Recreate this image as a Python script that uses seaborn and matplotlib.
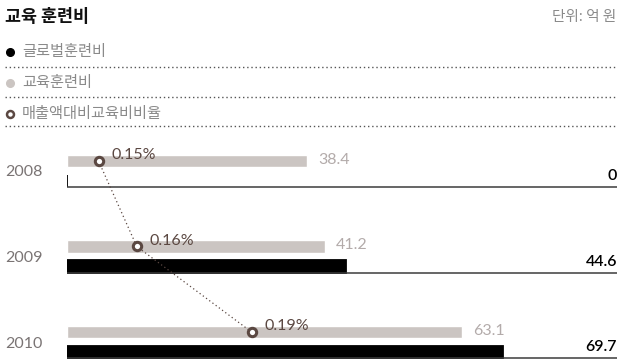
import matplotlib
matplotlib.use("Agg")
import matplotlib.pyplot as plt
from matplotlib.lines import Line2D
import matplotlib.transforms as mtransforms
import seaborn as sns
import pandas as pd

# ---- data ----
years = ["2008", "2009", "2010"]
education_cost = [38.4, 41.2, 63.1]      # 교육훈련비 (gray)
global_cost = [0, 44.6, 69.7]            # 글로벌훈련비 (black)
ratio_pct = [0.15, 0.16, 0.19]           # 매출액대비교육비비율 (%)

title = "교육 훈련비"
unit = "단위: 억 원"
legend_labels = ["글로벌훈련비", "교육훈련비", "매출액대비교육비비율"]

GRAY = "#cbc5c2"
BLACK = "#000000"
BROWN = "#5b4842"
GRAYTXT = "#b3abaa"
KR = ["Noto Sans CJK KR", "DejaVu Sans"]
NUM = ["Lato", "Noto Sans CJK KR", "DejaVu Sans"]

sns.set_theme(style="white")
plt.rcParams["font.family"] = NUM

W, H = 618, 359
fig = plt.figure(figsize=(W / 100, H / 100), dpi=100)

def fx(px):
    return px / W

def fy(py):
    return 1 - py / H

# main axes: x from 67px to 617px, y from 140px to bottom
ax = fig.add_axes([fx(67), 0, fx(617) - fx(67), (H - 140) / H])

df = pd.DataFrame({
    "year": years * 2,
    "series": [legend_labels[1]] * 3 + [legend_labels[0]] * 3,
    "value": education_cost + global_cost,
})
sns.barplot(data=df, x="value", y="year", hue="series",
            hue_order=[legend_labels[1], legend_labels[0]],
            palette=[GRAY, BLACK], orient="h", width=0.468, gap=0.375,
            errorbar=None, legend=False, saturation=1, ax=ax)

ax.set_xlim(0, 550 / 6.262)
ax.set_ylim(2 + 17 / 85.5, -31 / 85.5)
for s in ax.spines.values():
    s.set_visible(False)
ax.set_xticks([])
ax.set_xlabel("")
ax.set_ylabel("")
ax.tick_params(axis="y", length=0, pad=62 * 72 / 100, labelsize=11.5, labelcolor="#7a7474")
for lab in ax.get_yticklabels():
    lab.set_horizontalalignment("left")
    lab.set_fontfamily(NUM)

gray_bars = ax.containers[0]
black_bars = ax.containers[1]

for p in black_bars:
    p.set_edgecolor(BLACK)
    p.set_linewidth(1.3)

dpi_scale = fig.dpi_scale_trans

# baselines under black bars, value labels
for p, v in zip(black_bars, global_cost):
    yb = p.get_y() + p.get_height()
    ax.axhline(yb, color="#3c3c3c", lw=1.1, zorder=1)
    tr = ax.get_yaxis_transform() + mtransforms.ScaledTranslation(0, 4 / 100, dpi_scale)
    ax.text(1.0, yb, f"{v:g}", transform=tr, ha="right",
            va="bottom", fontsize=11.5, color="#000000", fontweight="semibold")

for p, v in zip(gray_bars, education_cost):
    yc = p.get_y() + p.get_height() / 2
    tr = ax.transData + mtransforms.ScaledTranslation(11 / 100, 1 / 100, dpi_scale)
    ax.text(p.get_width(), yc, f"{v:g}", transform=tr, ha="left", va="center",
            fontsize=11.5, color=GRAYTXT)

# ratio line on a twin x scale
gray_centers = [p.get_y() + p.get_height() / 2 for p in gray_bars]
ax2 = ax.twiny()
v0 = (67 + 475.2) / 3825
v1 = (617 + 475.2) / 3825
ax2.set_xlim(v0, v1)
rdf = pd.DataFrame({"pct": ratio_pct, "y": gray_centers})
sns.lineplot(data=rdf, x="pct", y="y", sort=False, ax=ax2, color=BROWN,
             linestyle=(0, (1, 2.2)), lw=0.9, marker="o", markersize=6,
             markerfacecolor="white", markeredgecolor=BROWN, markeredgewidth=2.2)
ax2.set_xticks([])
ax2.set_xlabel("")
ax2.set_ylabel("")
ax2.set_ylim(2 + 17 / 85.5, -31 / 85.5)
for s in ax2.spines.values():
    s.set_visible(False)
for x, y in zip(ratio_pct, gray_centers):
    tr = ax2.transData + mtransforms.ScaledTranslation(13 / 100, 5.5 / 100, dpi_scale)
    ax2.text(x, y, f"{x:.2f}%", transform=tr, ha="left", va="center",
             fontsize=11.5, color=BROWN)

# ---- header ----
fig.text(fx(5), fy(17), title, fontsize=12.5, fontweight="bold", family=KR,
         ha="left", va="center", color="#111111")
fig.text(fx(616), fy(17), unit, fontsize=10.5, family=KR, ha="right",
         va="center", color="#8a8a8a")

# ---- legend ----
leg_y = [51.5, 82.5, 113.5]
line_y = [67, 97, 126]
mk_styles = [
    dict(marker="o", markersize=5.5, markerfacecolor=BLACK, markeredgecolor=BLACK),
    dict(marker="o", markersize=5.5, markerfacecolor=GRAY, markeredgecolor=GRAY),
    dict(marker="o", markersize=5, markerfacecolor="white", markeredgecolor=BROWN,
         markeredgewidth=1.8),
]
for lab, y, ly, st in zip(legend_labels, leg_y, line_y, mk_styles):
    fig.add_artist(Line2D([fx(10)], [fy(y)], transform=fig.transFigure, **st))
    fig.text(fx(22), fy(y), lab, fontsize=11, family=KR, ha="left",
             va="center", color="#8a8a8a")
    fig.add_artist(Line2D([fx(5), fx(617)], [fy(ly), fy(ly)],
                          transform=fig.transFigure, color="#555555",
                          lw=1.0, linestyle=(0, (1, 2))))

fig.savefig("out.png", dpi=100)
